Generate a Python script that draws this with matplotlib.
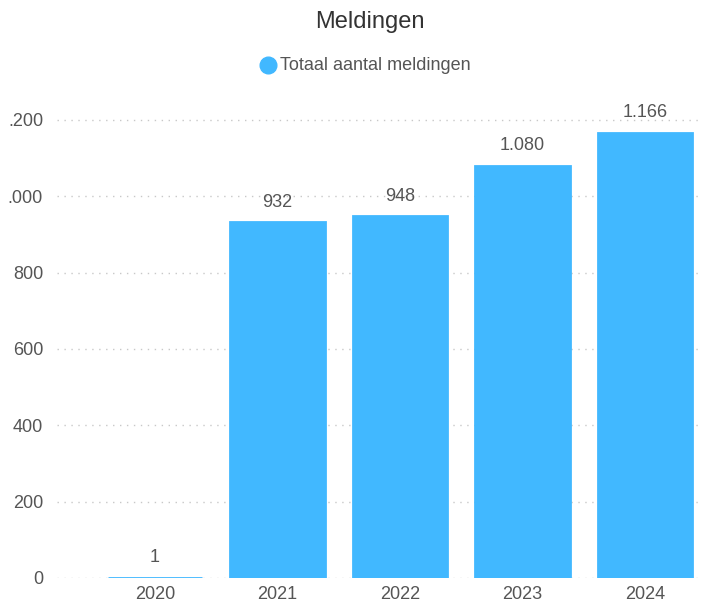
import matplotlib
matplotlib.use("Agg")
import matplotlib.pyplot as plt

plt.rcParams['font.family'] = ['Liberation Sans', 'DejaVu Sans']

jaren = ["2020", "2021", "2022", "2023", "2024"]
meldingen = [1, 932, 948, 1080, 1166]
y_ticks = [0, 200, 400, 600, 800, 1000, 1200]
# de bovenste twee labels zijn in het origineel links afgesneden
y_labels = ["0", "200", "400", "600", "800", ".000", ".200"]

kleur = "#41B8FF"
tekst = "#555555"

def fmt(v):
    return f"{v:,}".replace(",", ".")

fig = plt.figure(figsize=(7.01, 6.04), dpi=100)
ax = fig.add_axes([57 / 701, 1 - 578 / 604, 643 / 701, (578 - 97) / 604])

x = list(range(len(jaren)))
ax.bar(x, meldingen, width=0.77, color=kleur, edgecolor=kleur, linewidth=2, zorder=3)
for xi, v in zip(x, meldingen):
    ax.text(xi, v + 30, fmt(v), ha="center", va="bottom", fontsize=13, color=tekst)

ax.set_xlim(-0.8, 4.45)
ax.set_ylim(0, 1260)
ax.set_xticks(x)
ax.set_xticklabels(jaren)
ax.set_yticks(y_ticks)
ax.set_yticklabels(y_labels)
ax.tick_params(axis="both", length=0, labelsize=13, labelcolor=tekst)
ax.tick_params(axis="y", pad=10)
ax.tick_params(axis="x", pad=6)
ax.grid(axis="y", linestyle=(0, (1, 4)), color="#c8c8c8", linewidth=1, zorder=0)
for s in ax.spines.values():
    s.set_visible(False)

fig.text(370 / 701, 1 - 22 / 604, "Meldingen", ha="center", va="center", fontsize=17, color="#333333")
fig.lines.append(plt.Line2D([268 / 701], [1 - 65 / 604], marker="o", markersize=12,
                            color=kleur, transform=fig.transFigure, figure=fig))
fig.text(280 / 701, 1 - 65 / 604, "Totaal aantal meldingen", ha="left", va="center",
         fontsize=13, color=tekst)

fig.savefig("out.png", dpi=100)
